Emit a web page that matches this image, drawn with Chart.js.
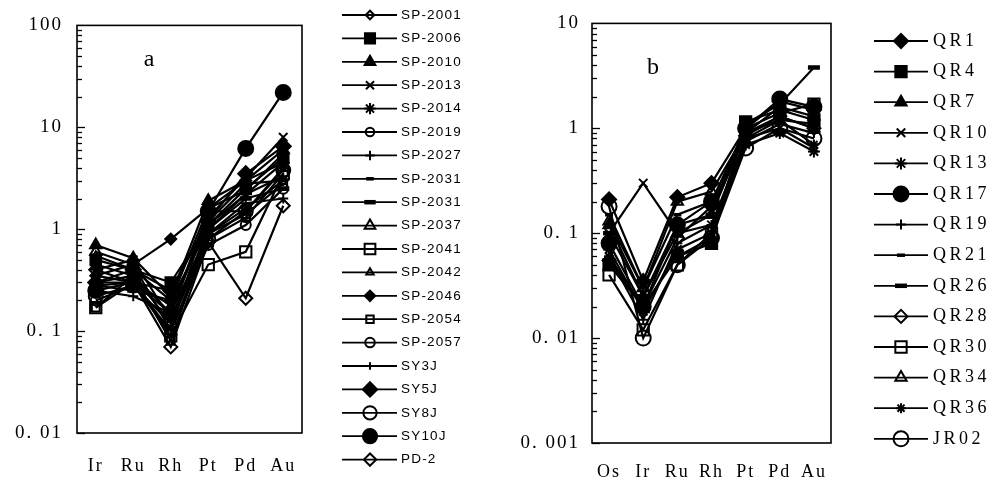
<!DOCTYPE html>
<html>
<head>
<meta charset="utf-8">
<script src="https://cdn.jsdelivr.net/npm/chart.js@4.4.0/dist/chart.umd.min.js"></script>
<style>
html, body { margin: 0; padding: 0; background: #fff; }
#wrap { position: relative; width: 996px; height: 487px; overflow: hidden; }
.panel { position: absolute; top: 0; width: 498px; height: 487px; }
#panelA { left: 0; }
#panelB { left: 498px; }
</style>
</head>
<body>
<div id="wrap">
  <div class="panel" id="panelA"><canvas id="chartA" width="498" height="487"></canvas></div>
  <div class="panel" id="panelB"><canvas id="chartB" width="498" height="487"></canvas></div>
</div>
<script>
// ===== DATA: panel a =====
const elementsA = ['Ir', 'Ru', 'Rh', 'Pt', 'Pd', 'Au'];
const decadesA = [0.01, 0.1, 1, 10, 100];
const tickLabelsA = ['0. 01', '0. 1', '1', '10', '100'];
const samplesA = ['SP-2001', 'SP-2006', 'SP-2010', 'SP-2013', 'SP-2014', 'SP-2019', 'SP-2027',
  'SP-2031', 'SP-2031', 'SP-2037', 'SP-2041', 'SP-2042', 'SP-2046', 'SP-2054', 'SP-2057',
  'SY3J', 'SY5J', 'SY8J', 'SY10J', 'PD-2'];
const valuesA = [
  [0.30, 0.35, 0.12, 0.90, 1.6, 3.0],   // SP-2001
  [0.50, 0.40, 0.30, 1.10, 2.5, 5.0],   // SP-2006
  [0.70, 0.52, 0.22, 1.90, 3.0, 6.0],   // SP-2010
  [0.45, 0.35, 0.15, 1.30, 3.2, 8.0],   // SP-2013
  [0.40, 0.50, 0.13, 1.00, 2.2, 4.5],   // SP-2014
  [0.30, 0.30, 0.10, 0.80, 1.3, 3.5],   // SP-2019
  [0.25, 0.22, 0.15, 0.90, 1.8, 2.0],   // SP-2027
  [0.35, 0.30, 0.25, 1.20, 2.8, 3.0],   // SP-2031
  [0.28, 0.25, 0.20, 1.00, 2.0, 2.5],   // SP-2031
  [0.60, 0.45, 0.10, 1.50, 1.5, 4.0],   // SP-2037
  [0.17, 0.30, 0.09, 0.45, 0.6, 3.5],   // SP-2041
  [0.55, 0.40, 0.20, 1.60, 2.4, 5.5],   // SP-2042
  [0.35, 0.45, 0.80, 1.60, 3.0, 4.5],   // SP-2046
  [0.17, 0.35, 0.08, 0.90, 1.4, 2.8],   // SP-2054
  [0.20, 0.28, 0.10, 0.70, 1.1, 2.5],   // SP-2057
  [0.28, 0.30, 0.18, 1.10, 2.2, 3.3],   // SY3J
  [0.30, 0.40, 0.25, 1.20, 3.5, 6.5],   // SY5J
  [0.22, 0.28, 0.12, 0.80, 1.5, 3.8],   // SY8J
  [0.25, 0.30, 0.15, 1.50, 6.2, 22],    // SY10J
  [0.40, 0.30, 0.07, 0.75, 0.21, 1.7]   // PD-2
];

// ===== DATA: panel b =====
const elementsB = ['Os', 'Ir', 'Ru', 'Rh', 'Pt', 'Pd', 'Au'];
const decadesB = [0.001, 0.01, 0.1, 1, 10];
const tickLabelsB = ['0. 001', '0. 01', '0. 1', '1', '10'];
const samplesB = ['QR1', 'QR4', 'QR7', 'QR10', 'QR13', 'QR17', 'QR19', 'QR21', 'QR26',
  'QR28', 'QR30', 'QR34', 'QR36', 'JR02'];
const valuesB = [
  [0.21, 0.035, 0.22, 0.30, 1.00, 1.8, 1.5],  // QR1
  [0.05, 0.020, 0.06, 0.08, 1.15, 1.5, 1.2],  // QR4
  [0.12, 0.025, 0.10, 0.15, 0.90, 1.3, 1.0],  // QR7
  [0.10, 0.300, 0.10, 0.12, 0.80, 1.0, 0.65], // QR10
  [0.07, 0.018, 0.07, 0.10, 0.70, 0.9, 0.6],  // QR13
  [0.08, 0.020, 0.12, 0.20, 1.00, 1.9, 1.6],  // QR17
  [0.06, 0.015, 0.08, 0.12, 0.75, 1.1, 0.9],  // QR19
  [0.15, 0.030, 0.15, 0.20, 0.90, 1.2, 1.1],  // QR21
  [0.10, 0.025, 0.12, 0.15, 1.10, 1.7, 3.8],  // QR26
  [0.055, 0.020, 0.09, 0.18, 0.85, 1.3, 1.0], // QR28
  [0.04, 0.012, 0.05, 0.10, 1.00, 1.4, 1.7],  // QR30
  [0.13, 0.030, 0.20, 0.25, 0.90, 1.6, 1.3],  // QR34
  [0.06, 0.020, 0.06, 0.09, 0.80, 1.2, 0.7],  // QR36
  [0.18, 0.010, 0.05, 0.09, 0.65, 1.0, 0.8]   // JR02
];

// ===== MARKER STYLES (pointStyle, filled, radius, borderWidth) =====
const markersA = [
  ['rectRot', false, 4.5], ['rect', true, 7.5], ['triangle', true, 6.5], ['crossRot', false, 6],
  ['star', false, 6], ['circle', false, 4.5], ['cross', false, 5], ['line', false, 4, 3.5],
  ['line', false, 6, 4.5], ['triangle', false, 6.5], ['rect', false, 8], ['triangle', false, 4.5],
  ['rectRot', true, 5.5], ['rect', false, 5.5], ['circle', false, 5], ['cross', false, 4],
  ['rectRot', true, 7.5], ['circle', false, 7], ['circle', true, 7.5], ['rectRot', false, 6.5]
];
const markersB = [
  ['rectRot', true, 7], ['rect', true, 8], ['triangle', true, 6.5], ['crossRot', false, 6],
  ['star', false, 6], ['circle', true, 7.5], ['cross', false, 5], ['line', false, 4, 3.5],
  ['line', false, 6, 4.5], ['rectRot', false, 6.5], ['rect', false, 8], ['triangle', false, 6.5],
  ['star', false, 5], ['circle', false, 7.5]
];

const SERIF = "'Liberation Serif', 'Times New Roman', serif";

// ===== PLUGINS =====
// plot frame + inward log ticks
const framePlugin = {
  id: 'frame',
  afterDraw(chart) {
    const ctx = chart.ctx;
    const a = chart.chartArea;
    const y = chart.scales.y;
    ctx.save();
    ctx.strokeStyle = '#000';
    ctx.lineWidth = 1.6;
    ctx.strokeRect(a.left, a.top, a.right - a.left, a.bottom - a.top);
    ctx.lineWidth = 1.3;
    let d = y.min;
    while (d < y.max * 0.999) {
      for (let k = 1; k <= 9; k++) {
        const py = Math.round(y.getPixelForValue(d * k)) + 0.5;
        const len = k === 1 ? 8 : 5;
        ctx.beginPath();
        ctx.moveTo(a.left, py);
        ctx.lineTo(a.left + len, py);
        ctx.stroke();
      }
      d *= 10;
    }
    ctx.restore();
  }
};

// panel letter
const letterPlugin = {
  id: 'letter',
  afterDraw(chart, args, opts) {
    const a = chart.chartArea;
    const ctx = chart.ctx;
    ctx.save();
    ctx.fillStyle = '#000';
    ctx.font = '24px ' + SERIF;
    ctx.textAlign = 'center';
    ctx.textBaseline = 'middle';
    ctx.fillText(opts.text, a.left + (a.right - a.left) * opts.fx, a.top + (a.bottom - a.top) * opts.fy);
    ctx.restore();
  }
};

// legend to the right: line with marker, then label
const sideLegend = {
  id: 'sideLegend',
  afterDraw(chart, args, opts) {
    const ctx = chart.ctx;
    ctx.save();
    chart.data.datasets.forEach((ds, i) => {
      const y = opts.top + i * opts.step;
      ctx.strokeStyle = '#000';
      ctx.lineWidth = 1.8;
      ctx.beginPath();
      ctx.moveTo(opts.lineFrom, y);
      ctx.lineTo(opts.lineTo, y);
      ctx.stroke();
      ctx.fillStyle = ds.pointBackgroundColor;
      ctx.lineWidth = ds.pointBorderWidth;
      Chart.helpers.drawPoint(ctx, {
        pointStyle: ds.pointStyle,
        radius: ds.pointRadius * opts.scale,
        rotation: 0,
        borderWidth: ds.pointBorderWidth
      }, opts.marker, y);
      ctx.fillStyle = '#000';
      ctx.font = opts.font;
      ctx.letterSpacing = opts.spacing;
      ctx.textAlign = 'left';
      ctx.textBaseline = 'middle';
      ctx.fillText(ds.label, opts.textX, y);
    });
    ctx.restore();
  }
};

// letter spacing for the axis numbers
const spacingPlugin = {
  id: 'spacing',
  beforeDraw(chart) { chart.ctx.letterSpacing = '2px'; },
  afterDatasetsDraw(chart) { chart.ctx.letterSpacing = '0px'; }
};

// ===== CHART CREATOR =====
function makeChart(id, cfg) {
  const datasets = cfg.names.map((name, i) => {
    const m = cfg.markers[i];
    return {
      label: name,
      data: cfg.values[i],
      borderColor: '#000',
      borderWidth: 2.2,
      pointStyle: m[0],
      pointRadius: m[2],
      pointBackgroundColor: m[1] ? '#000' : 'rgba(0,0,0,0)',
      pointBorderColor: '#000',
      pointBorderWidth: m[3] || 2,
      tension: 0,
      fill: false
    };
  });

  const ctx = document.getElementById(id).getContext('2d');
  return new Chart(ctx, {
    type: 'line',
    data: { labels: cfg.labels, datasets: datasets },
    plugins: [spacingPlugin, framePlugin, letterPlugin, sideLegend],
    options: {
      responsive: false,
      animation: false,
      events: [],
      layout: { padding: { top: 20, right: cfg.padRight, left: 0, bottom: 0 } },
      scales: {
        x: {
          offset: true,
          grid: { display: false, drawTicks: false },
          border: { display: false },
          afterFit: s => { s.height = cfg.xAxisHeight; },
          ticks: { padding: cfg.xPad, color: '#000', maxRotation: 0, font: { family: SERIF, size: 18 } }
        },
        y: {
          type: 'logarithmic',
          min: cfg.decades[0],
          max: cfg.decades[cfg.decades.length - 1],
          grid: { display: false, drawTicks: false },
          border: { display: false },
          afterFit: s => { s.width = cfg.yAxisWidth; },
          afterBuildTicks: s => { s.ticks = cfg.decades.map(v => ({ value: v })); },
          ticks: {
            autoSkip: false,
            padding: cfg.yPad,
            color: '#000',
            font: { family: SERIF, size: 19 },
            callback: v => cfg.tickLabels[cfg.decades.indexOf(v)]
          }
        }
      },
      plugins: {
        legend: { display: false },
        tooltip: { enabled: false },
        letter: cfg.letter,
        sideLegend: cfg.legend
      }
    }
  });
}

makeChart('chartA', {
  labels: elementsA, names: samplesA, values: valuesA, markers: markersA,
  decades: decadesA, tickLabels: tickLabelsA,
  padRight: 196, xAxisHeight: 54, xPad: 22, yAxisWidth: 77, yPad: 14,
  letter: { text: 'a', fx: 0.32, fy: 0.085 },
  legend: { top: 15, step: 23.4, lineFrom: 342, lineTo: 397, marker: 370, textX: 401,
            scale: 0.95, font: "13.5px 'Liberation Sans', Arial, sans-serif", spacing: '1.2px' }
});

makeChart('chartB', {
  labels: elementsB, names: samplesB, values: valuesB, markers: markersB,
  decades: decadesB, tickLabels: tickLabelsB,
  padRight: 165, xAxisHeight: 44, xPad: 18, yAxisWidth: 94, yPad: 12,
  letter: { text: 'b', fx: 0.255, fy: 0.106 },
  legend: { top: 41, step: 30.6, lineFrom: 376, lineTo: 430, marker: 403, textX: 435,
            scale: 1, font: '18px ' + SERIF, spacing: '3.5px' }
});
</script>
</body>
</html>
